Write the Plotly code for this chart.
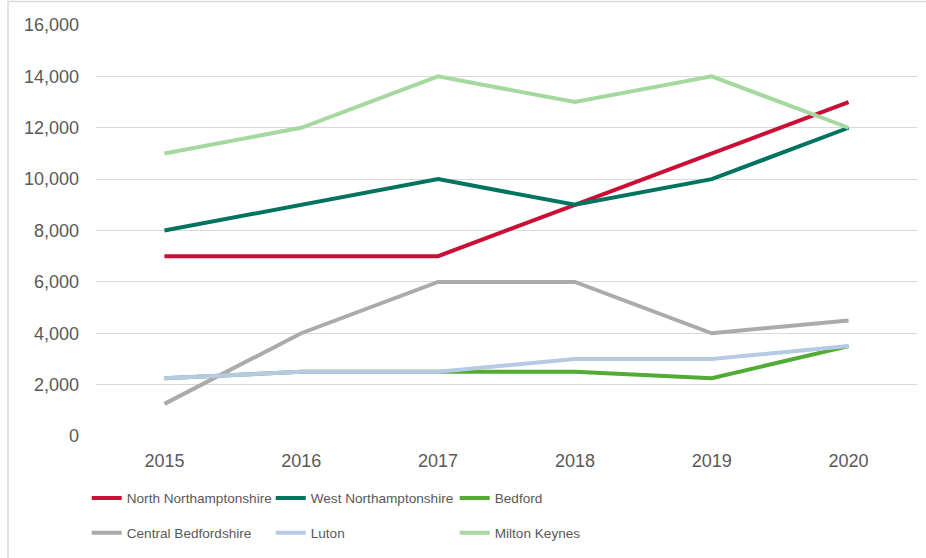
import plotly.graph_objects as go

years = ["2015", "2016", "2017", "2018", "2019", "2020"]
north_northamptonshire = [7000, 7000, 7000, 9000, 11000, 13000]
west_northamptonshire = [8000, 9000, 10000, 9000, 10000, 12000]
bedford = [2250, 2500, 2500, 2500, 2250, 3500]
central_bedfordshire = [1250, 4000, 6000, 6000, 4000, 4500]
luton = [2250, 2500, 2500, 3000, 3000, 3500]
milton_keynes = [11000, 12000, 14000, 13000, 14000, 12000]
y_ticks = [0, 2000, 4000, 6000, 8000, 10000, 12000, 14000, 16000]

series = [
    ("North Northamptonshire", north_northamptonshire, "#CC0E36", "legend"),
    ("West Northamptonshire", west_northamptonshire, "#00745F", "legend"),
    ("Bedford", bedford, "#52AB35", "legend"),
    ("Central Bedfordshire", central_bedfordshire, "#ABABAB", "legend2"),
    ("Luton", luton, "#B6CAE3", "legend2"),
    ("Milton Keynes", milton_keynes, "#A6D9A0", "legend2"),
]

fig = go.Figure()
for name, vals, color, lg in series:
    fig.add_trace(go.Scatter(x=years, y=vals, name=name, mode="lines",
                             line=dict(color=color, width=4), legend=lg))

font_fam = "Liberation Sans, Arial, sans-serif"
legend_common = dict(orientation="h", xanchor="left", yanchor="middle",
                     font=dict(family=font_fam, size=13.6, color="#595959"),
                     entrywidth=139, entrywidthmode="pixels",
                     bgcolor="rgba(0,0,0,0)", borderwidth=0, itemwidth=30)

fig.update_layout(
    width=926, height=558,
    margin=dict(l=96, r=9, t=25, b=122),
    paper_bgcolor="white", plot_bgcolor="white",
    font=dict(family=font_fam, color="#595959", size=18),
    showlegend=True,
    legend=dict(x=-0.0113, y=-0.151, **legend_common),
    legend2=dict(x=-0.0113, y=-0.236, **legend_common),
    xaxis=dict(type="category", range=[-0.5, 5.5], showgrid=False,
               zeroline=False, showline=False, ticks="",
               tickfont=dict(size=18, color="#595959"),
               ticklabelstandoff=12),
    yaxis=dict(range=[0, 16000], tickvals=y_ticks, tickformat=",",
               showgrid=True, gridcolor="#D9D9D9", gridwidth=1,
               zeroline=False, showline=False, ticks="",
               tickfont=dict(size=18, color="#595959"),
               ticklabelstandoff=16),
    shapes=[dict(type="rect", xref="paper", yref="paper",
                 x0=(8 - 96) / 821, x1=1.2, y0=-0.6, y1=(436 - 1.5) / 411,
                 line=dict(color="#D9D9D9", width=1.5), layer="below")],
)

fig.write_html(
    "out.html",
    config={"displayModeBar": False},
    post_script="document.body.style.margin='0';document.body.style.overflow='hidden';",
)
